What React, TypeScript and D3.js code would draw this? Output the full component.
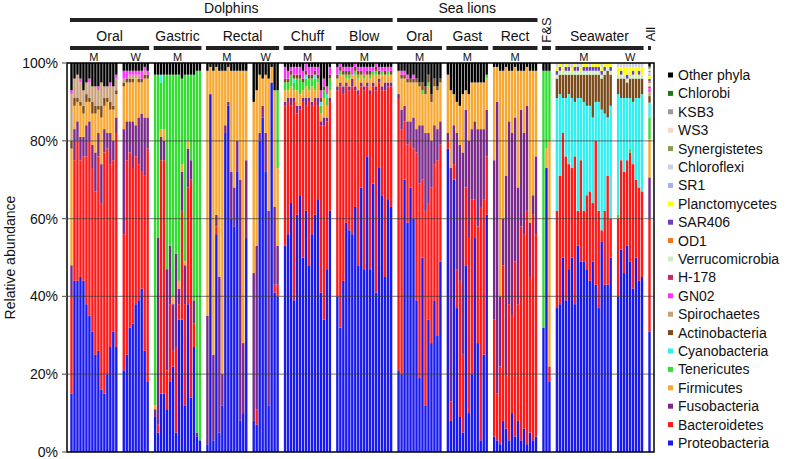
import * as d3 from "d3"

// Phyla in stacking order (bottom -> top); legend lists them reversed
const phyla = [
  "Proteobacteria", "Bacteroidetes", "Fusobacteria", "Firmicutes", "Tenericutes",
  "Cyanobacteria", "Actinobacteria", "Spirochaetes", "GN02", "H-178",
  "Verrucomicrobia", "OD1", "SAR406", "Planctomycetes", "SR1", "Chloroflexi",
  "Synergistetes", "WS3", "KSB3", "Chlorobi", "Other phyla",
]
const phylumColors = [
  "#1a1aee", "#ff1a1a", "#7a2a8a", "#f8a830", "#33dd33",
  "#33f0f0", "#7a4a1a", "#c8a078", "#ff33ff", "#c8286e",
  "#c8f0b8", "#f07820", "#6a3fc0", "#ffff00", "#a9aef0", "#d0d0e0",
  "#8a9a50", "#f3d9c8", "#999999", "#1a7a1a", "#000000",
]

const yTicks = [0, 20, 40, 60, 80, 100]

// Each row: % per phylum in the order above; "Other phyla" is the remainder to 100
const dolphinOralM = [
  [15, 25, 8, 30, 0, 0, 2, 12, 1],
  [44, 31, 8, 6, 0, 0, 2, 5, 0],
  [44, 36, 5, 5, 0, 0, 1, 6, 0],
  [45, 30, 6, 8, 0, 0, 1, 5, 1],
  [44, 32, 5, 6, 0, 0, 2, 4, 0],
  [38, 38, 8, 6, 0, 0, 2, 3, 0],
  [35, 45, 5, 5, 0, 0, 1, 4, 1],
  [31, 42, 6, 8, 0, 0, 3, 4, 0],
  [25, 42, 10, 10, 0, 0, 2, 5, 0],
  [26, 50, 6, 6, 0, 0, 1, 4, 1],
  [16, 48, 10, 12, 0, 0, 3, 6, 0],
  [15, 62, 6, 6, 0, 0, 2, 3, 0],
  [20, 58, 4, 8, 0, 0, 1, 3, 0],
  [27, 47, 8, 6, 0, 0, 2, 4, 1],
  [31, 44, 5, 8, 0, 0, 1, 5, 0],
  [27, 55, 4, 6, 0, 0, 1, 3, 1],
]
const dolphinOralW = [
  [21, 35, 27, 11, 0, 0, 1, 1, 2],
  [25, 50, 10, 10, 0, 0, 1, 0, 2],
  [32, 45, 8, 10, 0, 0, 1, 1, 1],
  [33, 40, 12, 10, 0, 0, 1, 1, 1],
  [38, 38, 8, 12, 0, 0, 0, 1, 1],
  [39, 35, 12, 9, 0, 0, 1, 1, 1],
  [42, 30, 15, 8, 0, 0, 1, 0, 2],
  [26, 45, 15, 10, 0, 0, 1, 1, 1],
  [18, 60, 8, 10, 0, 0, 1, 0, 1],
]
const dolphinGastricM = [
  [9, 0, 2, 1, 85, 0],
  [5, 2, 48, 0, 42, 0],
  [15, 60, 6, 2, 12, 2],
  [15, 60, 5, 3, 14, 0],
  [11, 10, 26, 0, 50, 0],
  [18, 20, 15, 0, 44, 0],
  [22, 4, 12, 2, 57, 0],
  [5, 22, 24, 0, 46, 0],
  [34, 4, 4, 2, 53, 0],
  [34, 28, 10, 2, 22, 0],
  [12, 26, 10, 1, 48, 0],
  [38, 30, 10, 2, 17, 0],
  [14, 56, 5, 0, 22, 0],
  [27, 6, 6, 0, 58, 0],
  [4, 0, 1, 0, 93, 0],
  [3, 0, 0, 0, 95, 0],
]
const dolphinRectalM = [
  [2, 0, 33, 63],
  [92, 0, 0, 7],
  [3, 0, 22, 73],
  [56, 2, 3, 38],
  [5, 0, 40, 53],
  [12, 0, 8, 78],
  [82, 0, 2, 14],
  [89, 0, 1, 9],
  [60, 0, 12, 26],
  [58, 0, 10, 30],
  [72, 0, 8, 18],
  [8, 0, 62, 28],
  [10, 0, 18, 70],
  [55, 0, 20, 23],
]
const dolphinRectalW = [
  [8, 0, 38, 44, 0],
  [7, 4, 42, 40, 0],
  [80, 0, 2, 15, 0],
  [86, 0, 3, 7, 0],
  [72, 0, 10, 15, 0],
  [12, 0, 50, 34, 0],
  [95, 0, 0, 4, 0],
  [41, 2, 20, 30, 0],
  [40, 3, 10, 20, 20],
]
const dolphinChuffM = [
  [53, 36, 1, 3, 2, 0, 1, 0, 3],
  [56, 34, 1, 2, 2, 0, 1, 0, 2],
  [64, 25, 2, 3, 3, 0, 1, 0, 1],
  [39, 51, 1, 2, 2, 1, 1, 0, 2],
  [61, 26, 2, 4, 3, 0, 1, 0, 2],
  [66, 22, 1, 3, 4, 0, 1, 0, 2],
  [50, 40, 1, 2, 2, 0, 1, 0, 2],
  [62, 27, 2, 3, 2, 1, 1, 0, 2],
  [48, 42, 1, 2, 3, 0, 1, 0, 2],
  [56, 33, 1, 4, 2, 0, 1, 0, 2],
  [61, 29, 1, 2, 3, 1, 1, 0, 1],
  [65, 24, 2, 4, 1, 0, 1, 0, 2],
  [41, 43, 1, 2, 2, 1, 1, 0, 2],
  [34, 50, 2, 5, 2, 0, 1, 0, 2],
  [47, 38, 1, 3, 2, 1, 0, 0, 2],
  [62, 28, 1, 2, 3, 0, 1, 0, 2],
]
const dolphinBlowM = [
  [40, 53, 1, 2, 0, 0, 1, 0, 2],
  [32, 62, 1, 2, 1, 0, 1, 0, 1],
  [44, 48, 2, 3, 0, 0, 1, 0, 1],
  [59, 35, 1, 1, 1, 0, 1, 0, 1],
  [57, 36, 1, 2, 1, 0, 1, 0, 1],
  [56, 38, 2, 1, 0, 0, 0, 0, 2],
  [63, 30, 1, 3, 1, 0, 1, 0, 1],
  [48, 44, 1, 3, 1, 0, 1, 0, 1],
  [68, 26, 1, 2, 0, 0, 1, 0, 1],
  [47, 46, 1, 2, 1, 0, 0, 0, 2],
  [76, 18, 1, 2, 0, 0, 1, 0, 1],
  [47, 45, 1, 3, 1, 0, 1, 0, 1],
  [69, 25, 1, 2, 1, 0, 0, 0, 1],
  [41, 52, 1, 3, 1, 0, 1, 0, 1],
  [73, 22, 1, 1, 0, 0, 1, 0, 1],
  [66, 27, 1, 3, 1, 0, 0, 0, 1],
  [45, 48, 2, 2, 0, 0, 1, 0, 1],
  [65, 29, 1, 2, 1, 0, 0, 0, 1],
  [63, 31, 1, 2, 0, 0, 1, 0, 1],
]
const sealionOralM = [
  [21, 70, 1, 6, 0, 0, 0],
  [20, 63, 5, 8, 0, 0, 1, 0, 1],
  [70, 15, 4, 7, 0, 0, 1, 0, 1],
  [59, 20, 6, 10, 0, 0, 1, 0, 1],
  [68, 12, 5, 10, 0, 0, 1],
  [60, 18, 8, 9, 0, 0, 1, 0, 1],
  [39, 38, 6, 12, 0, 0, 1],
  [19, 50, 15, 10, 0, 0, 1],
  [50, 20, 14, 8, 1, 0, 2],
  [12, 50, 20, 10, 0, 0, 2],
  [34, 30, 18, 12, 1, 0, 2],
  [28, 40, 12, 10, 0, 0, 2],
  [39, 35, 10, 10, 0, 0, 2],
  [30, 45, 8, 10, 0, 0, 1],
  [49, 30, 6, 10, 0, 0, 1],
]
const sealionGastM = [
  [78, 2, 2, 15],
  [8, 5, 60, 20],
  [70, 4, 10, 8],
  [37, 10, 35, 8],
  [9, 35, 35, 10],
  [5, 20, 52, 15],
  [48, 20, 20, 5],
  [10, 45, 25, 12],
  [20, 45, 18, 12],
  [55, 10, 20, 10],
  [28, 30, 25, 12],
  [3, 60, 20, 12],
  [25, 40, 18, 12],
  [61, 15, 12, 8, 1],
]
const sealionRectM = [
  [4, 30, 41, 24],
  [3, 12, 75, 9],
  [2, 20, 18, 58],
  [8, 40, 12, 38],
  [6, 14, 51, 28],
  [3, 35, 47, 13],
  [10, 25, 47, 16],
  [4, 45, 37, 13],
  [8, 30, 30, 30],
  [3, 55, 30, 10],
  [6, 50, 26, 16],
  [2, 60, 27, 10],
  [5, 40, 14, 39],
  [3, 58, 5, 32],
  [4, 52, 20, 22],
]
const fishAndSquid = [
  [32, 0, 0, 0, 66],
  [73, 0, 0, 5, 20],
  [18, 4, 0, 58, 18],
]
const seawaterM = [
  [37, 25, 0, 0, 0, 29, 5, 0, 0, 0, 1, 0, 1, 1, 0, 1],
  [38, 33, 0, 0, 0, 21, 5, 0, 0, 0, 1, 0, 1, 1, 0, 0],
  [50, 32, 0, 0, 0, 9, 6, 0, 0, 0, 1, 0, 0, 1, 0, 1],
  [39, 37, 0, 0, 0, 15, 6, 0, 0, 0, 1, 0, 1, 1, 0, 0],
  [47, 27, 0, 0, 0, 18, 5, 0, 0, 0, 1, 0, 1, 0, 0, 1],
  [50, 23, 0, 0, 0, 18, 6, 0, 0, 0, 1, 0, 0, 1, 0, 1],
  [38, 38, 0, 0, 0, 14, 7, 0, 0, 0, 1, 0, 1, 1, 0, 0],
  [53, 9, 0, 0, 0, 29, 6, 0, 0, 0, 1, 0, 1, 0, 0, 1],
  [49, 26, 0, 0, 0, 16, 6, 0, 0, 0, 1, 0, 0, 1, 0, 1],
  [49, 13, 0, 0, 0, 28, 7, 0, 0, 0, 1, 0, 1, 1, 0, 0],
  [47, 19, 0, 0, 0, 23, 8, 0, 0, 0, 1, 0, 1, 1, 0, 0],
  [44, 23, 0, 0, 0, 22, 8, 0, 0, 0, 1, 0, 1, 0, 0, 1],
  [49, 15, 0, 0, 0, 22, 11, 0, 0, 0, 1, 0, 1, 1, 0, 0],
  [43, 37, 0, 0, 0, 10, 7, 0, 0, 0, 1, 0, 1, 1, 0, 0],
  [37, 25, 0, 0, 0, 28, 7, 0, 0, 0, 1, 0, 1, 1, 0, 0],
  [54, 3, 0, 0, 0, 31, 8, 0, 0, 0, 1, 0, 1, 1, 0, 1],
  [43, 19, 0, 0, 0, 25, 10, 0, 0, 0, 1, 0, 1, 1, 0, 0],
  [43, 28, 0, 0, 0, 15, 12, 0, 0, 0, 1, 0, 0, 1, 0, 0],
  [50, 10, 0, 0, 0, 29, 8, 0, 0, 0, 1, 0, 1, 1, 0, 0],
]
const seawaterW = [
  [40, 20, 0, 0, 1, 31, 4, 0, 0, 0, 1, 0, 0, 2, 0, 1],
  [52, 23, 0, 0, 0, 16, 5, 0, 0, 0, 1, 0, 1, 1, 0, 1],
  [46, 26, 0, 0, 0, 19, 5, 0, 0, 0, 1, 0, 0, 2, 0, 1],
  [53, 22, 0, 0, 0, 16, 4, 0, 0, 0, 1, 0, 1, 2, 0, 1],
  [49, 28, 0, 0, 1, 13, 5, 0, 0, 0, 1, 0, 0, 2, 0, 1],
  [42, 32, 0, 0, 0, 16, 6, 0, 0, 0, 1, 0, 1, 1, 0, 1],
  [50, 20, 0, 0, 0, 21, 5, 0, 0, 0, 1, 0, 0, 2, 0, 1],
  [44, 24, 0, 0, 0, 23, 5, 0, 0, 0, 1, 0, 1, 1, 0, 1],
  [45, 22, 0, 0, 0, 25, 4, 0, 0, 0, 1, 0, 0, 2, 0, 1],
]
const allSamples = [
  [31, 29, 10.6, 9.8, 5.6, 3.8, 1.7, 1, 1, 0.5, 0.8, 0.5, 0.6, 0.8, 0.4, 0.6, 0.3, 0.5, 0.3, 0.3],
]

const subgroups = [
  { host: "Dolphins", site: "Oral", tag: "M", rows: dolphinOralM },
  { host: "Dolphins", site: "Oral", tag: "W", rows: dolphinOralW },
  { host: "Dolphins", site: "Gastric", tag: "M", rows: dolphinGastricM },
  { host: "Dolphins", site: "Rectal", tag: "M", rows: dolphinRectalM },
  { host: "Dolphins", site: "Rectal", tag: "W", rows: dolphinRectalW },
  { host: "Dolphins", site: "Chuff", tag: "M", rows: dolphinChuffM },
  { host: "Dolphins", site: "Blow", tag: "M", rows: dolphinBlowM },
  { host: "Sea lions", site: "Oral", tag: "M", rows: sealionOralM },
  { host: "Sea lions", site: "Gast", tag: "M", rows: sealionGastM },
  { host: "Sea lions", site: "Rect", tag: "M", rows: sealionRectM },
  { host: "", site: "F&S", tag: "", rows: fishAndSquid, rotate: true },
  { host: "", site: "Seawater", tag: "M", rows: seawaterM },
  { host: "", site: "Seawater", tag: "W", rows: seawaterW },
  { host: "", site: "All", tag: "", rows: allSamples, rotate: true },
]

const font = "Liberation Sans, Arial, Helvetica, sans-serif"

export default function App() {
  const width = 786
  const height = 459
  const margin = { top: 63, right: 132, bottom: 7, left: 67 }
  const plotRight = width - margin.right
  const plotBottom = height - margin.bottom

  // lay samples out on a slot axis, with a gap between subgroups
  const gapSlots = 1.5
  const samples: any[] = []
  const spans: any[] = []
  let pos = 0
  subgroups.forEach((g, gi) => {
    if (gi > 0) pos += gapSlots
    const start = pos
    g.rows.forEach((r, i) => {
      const rec: any = { key: `${gi}-${i}`, pos }
      phyla.forEach((p, k) => {
        if (k < phyla.length - 1) rec[p] = r[k] ?? 0
      })
      rec["Other phyla"] = Math.max(0, 100 - d3.sum(r))
      samples.push(rec)
      pos += 1
    })
    spans.push({ ...g, start, end: pos })
  })

  const x = d3.scaleLinear().domain([0, pos]).range([margin.left + 3, plotRight - 3])
  const y = d3.scaleLinear().domain([0, 100]).range([plotBottom, margin.top]).clamp(true)
  const slot = x(1) - x(0)
  const color = d3.scaleOrdinal<string, string>().domain(phyla).range(phylumColors)

  const series = d3.stack<any>().keys(phyla)(samples)

  const hostSpans = d3
    .groups(spans.filter((s) => s.host), (s) => s.host)
    .map(([label, ss]) => ({ label, x0: x(ss[0].start), x1: x(ss[ss.length - 1].end) }))
  const siteSpans = d3
    .groups(spans, (s) => `${s.host}|${s.site}`)
    .map(([, ss]) => ({
      label: ss[0].site,
      rotate: !!ss[0].rotate,
      x0: x(ss[0].start),
      x1: x(ss[ss.length - 1].end),
    }))

  const legendY = d3
    .scalePoint<string>()
    .domain([...phyla].reverse())
    .range([75, 443])

  return (
    <svg
      width={width}
      height={height}
      style={{ position: "absolute", left: 0, top: 0, background: "#fff" }}
      fontFamily={font}
    >
      {/* Stacked bars */}
      <g>
        {series.map((s) => (
          <g key={s.key} fill={color(s.key)}>
            {s.map((d: any) =>
              d[1] - d[0] > 0 ? (
                <rect
                  key={d.data.key}
                  x={x(d.data.pos) + slot * 0.1}
                  width={slot * 0.8}
                  y={y(d[1])}
                  height={Math.max(0, y(d[0]) - y(d[1]))}
                />
              ) : null,
            )}
          </g>
        ))}
      </g>

      {/* Gridlines drawn over bars */}
      {yTicks
        .filter((t) => t > 0 && t < 100)
        .map((t) => (
          <line
            key={t}
            x1={margin.left}
            x2={plotRight}
            y1={y(t)}
            y2={y(t)}
            stroke="#333"
            strokeOpacity={0.55}
            strokeWidth={1.2}
          />
        ))}

      {/* Frame */}
      <rect
        x={margin.left}
        y={margin.top}
        width={plotRight - margin.left}
        height={plotBottom - margin.top}
        fill="none"
        stroke="#000"
        strokeWidth={1.5}
      />

      {/* Y axis */}
      {yTicks.map((t) => (
        <g key={t} transform={`translate(${margin.left},${y(t)})`}>
          <line x1={-5} x2={0} stroke="#666" strokeWidth={1.2} />
          <text x={-9} dy="0.36em" textAnchor="end" fontSize={14} fill="#111">
            {t}%
          </text>
        </g>
      ))}
      <text
        transform={`translate(15,${(margin.top + plotBottom) / 2}) rotate(-90)`}
        textAnchor="middle"
        fontSize={14}
        fill="#111"
      >
        Relative abundance
      </text>

      {/* Host headers */}
      {hostSpans.map((h) => (
        <g key={h.label}>
          <text x={(h.x0 + h.x1) / 2} y={13} textAnchor="middle" fontSize={14} fill="#111">
            {h.label}
          </text>
          <rect x={h.x0} y={18} width={h.x1 - h.x0} height={4} fill="#222" />
        </g>
      ))}

      {/* Site headers */}
      {siteSpans.map((s, i) => (
        <g key={i}>
          {s.rotate ? (
            <text
              transform={`translate(${(s.x0 + s.x1) / 2 + 5},${s.label === "All" ? 34 : 30}) rotate(-90)`}
              textAnchor="middle"
              fontSize={13}
              fill="#111"
            >
              {s.label}
            </text>
          ) : (
            <text x={(s.x0 + s.x1) / 2} y={41} textAnchor="middle" fontSize={14} fill="#111">
              {s.label}
            </text>
          )}
          <rect x={s.x0} y={46} width={s.x1 - s.x0} height={4} fill="#222" />
        </g>
      ))}

      {/* M / W tags */}
      {spans
        .filter((s) => s.tag)
        .map((s, i) => (
          <text
            key={i}
            x={(x(s.start) + x(s.end)) / 2}
            y={61}
            textAnchor="middle"
            fontSize={11}
            fill="#111"
          >
            {s.tag}
          </text>
        ))}

      {/* Legend */}
      <g>
        {phyla.map((p) => (
          <g key={p} transform={`translate(668,${legendY(p)})`}>
            <rect x={0} y={-2.5} width={5} height={5} fill={color(p)} />
            <text x={10} dy="0.36em" fontSize={14} fill="#111">
              {p}
            </text>
          </g>
        ))}
      </g>
    </svg>
  )
}
